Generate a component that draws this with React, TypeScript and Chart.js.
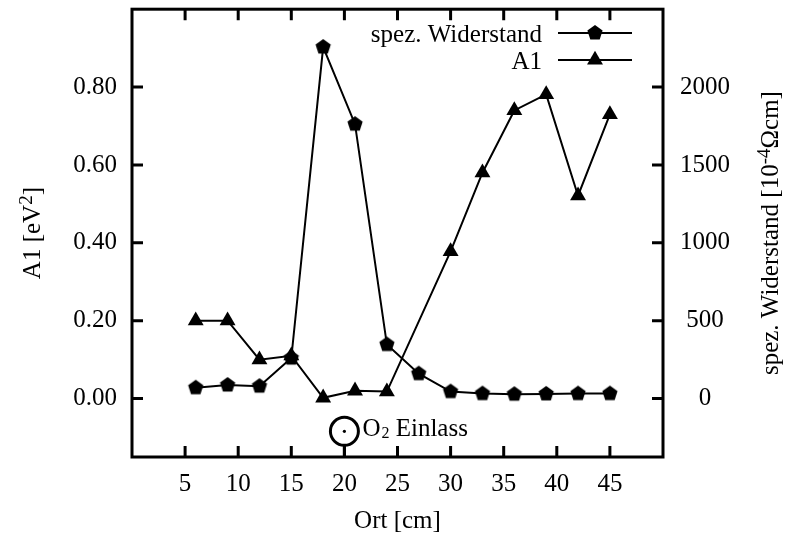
import React, { useEffect, useRef } from 'react';
import { Chart, registerables } from 'chart.js';

Chart.register(...registerables);

// ---- data ----
const ortCm = [6, 9, 12, 15, 18, 21, 24, 27, 30, 33, 36, 39, 42, 45];
const widerstand = [70, 87, 80, 260, 2257, 1762, 347, 160, 45, 32, 28, 30, 32, 32];
const a1Values: (number | null)[] = [0.2, 0.2, 0.1, 0.11, 0.002, 0.02, 0.018, null, 0.378, 0.58, 0.74, 0.781, 0.521, 0.73];
const xTickValues = [5, 10, 15, 20, 25, 30, 35, 40, 45];
const leftTickValues = [0, 0.2, 0.4, 0.6, 0.8];
const rightTickValues = [0, 500, 1000, 1500, 2000];
const einlassOrt = 20;
const einlassLevel = -0.084;

const FONT = 'Liberation Serif';
const FS = 25;

function makePentagon(R: number): HTMLCanvasElement {
  const size = Math.ceil(2 * R + 2);
  const c = document.createElement('canvas');
  c.width = size;
  c.height = size;
  const g = c.getContext('2d')!;
  g.beginPath();
  for (let i = 0; i < 5; i++) {
    const a = -Math.PI / 2 + (i * 2 * Math.PI) / 5;
    const px = size / 2 + R * Math.cos(a);
    const py = size / 2 + R * Math.sin(a);
    if (i === 0) g.moveTo(px, py);
    else g.lineTo(px, py);
  }
  g.closePath();
  g.fillStyle = '#000';
  g.fill();
  return c;
}

function drawTriangle(ctx: CanvasRenderingContext2D, x: number, y: number, r: number) {
  ctx.beginPath();
  let rad = 0;
  for (let i = 0; i < 3; i++) {
    const px = x + Math.sin(rad) * r;
    const py = y - Math.cos(rad) * r;
    if (i === 0) ctx.moveTo(px, py);
    else ctx.lineTo(px, py);
    rad += (2 * Math.PI) / 3;
  }
  ctx.closePath();
  ctx.fillStyle = '#000';
  ctx.fill();
}

// draws a mixed text run [text, size, raise] on the alphabetic baseline y=0
function drawRuns(ctx: CanvasRenderingContext2D, runs: [string, number, number][], cx: number, align: 'center' | 'right' | 'left') {
  let total = 0;
  const widths = runs.map(([t, s]) => {
    ctx.font = `${s}px "${FONT}"`;
    const w = ctx.measureText(t).width;
    total += w;
    return w;
  });
  let x = align === 'center' ? cx - total / 2 : align === 'right' ? cx - total : cx;
  ctx.textAlign = 'left';
  ctx.textBaseline = 'alphabetic';
  runs.forEach(([t, s, raise], i) => {
    ctx.font = `${s}px "${FONT}"`;
    ctx.fillText(t, x, -raise);
    x += widths[i];
  });
}

const zeroPad = (s: any) => {
  s.paddingTop = 0;
  s.paddingBottom = 0;
  s.paddingLeft = 0;
  s.paddingRight = 0;
};

export default function App() {
  const canvasRef = useRef<HTMLCanvasElement | null>(null);

  useEffect(() => {
    const canvas = canvasRef.current;
    if (!canvas) return;
    const pentagon = makePentagon(8);
    const TRI_R = 9.2;

    const decorPlugin = {
      id: 'decor',
      afterDraw(chart: any) {
        const ctx: CanvasRenderingContext2D = chart.ctx;
        const { left, right, top, bottom } = chart.chartArea;
        const xs = chart.scales.x;
        const ys = chart.scales.y;
        const y1 = chart.scales.y1;
        ctx.save();
        ctx.strokeStyle = '#000';
        ctx.fillStyle = '#000';
        ctx.lineCap = 'butt';

        // ticks
        ctx.lineWidth = 3;
        const TL = 11;
        ctx.beginPath();
        xTickValues.forEach((v) => {
          const px = xs.getPixelForValue(v);
          ctx.moveTo(px, bottom);
          ctx.lineTo(px, bottom - TL);
          ctx.moveTo(px, top);
          ctx.lineTo(px, top + TL);
        });
        leftTickValues.forEach((v) => {
          const py = ys.getPixelForValue(v);
          ctx.moveTo(left, py);
          ctx.lineTo(left + TL, py);
        });
        rightTickValues.forEach((v) => {
          const py = y1.getPixelForValue(v);
          ctx.moveTo(right, py);
          ctx.lineTo(right - TL, py);
        });
        ctx.stroke();

        // frame
        ctx.lineWidth = 3;
        ctx.strokeRect(left, top, right - left, bottom - top);

        const midY = (top + bottom) / 2;

        // left title
        ctx.save();
        ctx.translate(40, midY);
        ctx.rotate(-Math.PI / 2);
        drawRuns(ctx, [['A1 [eV', FS, 0], ['2', 19, 8], [']', FS, 0]], 0, 'center');
        ctx.restore();

        // right title
        ctx.save();
        ctx.translate(778, midY);
        ctx.rotate(-Math.PI / 2);
        drawRuns(ctx, [['spez. Widerstand [10', FS, 0], ['-4', 19, 8], ['Ωcm]', FS, 0]], 0, 'center');
        ctx.restore();

        // x title
        ctx.save();
        ctx.translate((left + right) / 2, 528);
        drawRuns(ctx, [['Ort [cm]', FS, 0]], 0, 'center');
        ctx.restore();

        // legend
        const legendRows = [
          { label: 'spez. Widerstand', y: 33, marker: 'pent' },
          { label: 'A1', y: 60, marker: 'tri' },
        ];
        legendRows.forEach((row) => {
          ctx.save();
          ctx.translate(0, row.y + 9);
          drawRuns(ctx, [[row.label, FS, 0]], 542, 'right');
          ctx.restore();
          ctx.lineWidth = 2;
          ctx.beginPath();
          ctx.moveTo(558, row.y);
          ctx.lineTo(632, row.y);
          ctx.stroke();
          if (row.marker === 'pent') {
            ctx.drawImage(pentagon, 595 - pentagon.width / 2, row.y - pentagon.height / 2);
          } else {
            drawTriangle(ctx, 595, row.y, TRI_R);
          }
        });

        // O2 inlet annotation
        const cx = xs.getPixelForValue(einlassOrt);
        const cy = ys.getPixelForValue(einlassLevel);
        ctx.lineWidth = 3;
        ctx.beginPath();
        ctx.arc(cx, cy, 14, 0, Math.PI * 2);
        ctx.stroke();
        ctx.beginPath();
        ctx.moveTo(cx, cy + 14);
        ctx.lineTo(cx, bottom);
        ctx.stroke();
        ctx.beginPath();
        ctx.arc(cx, cy, 1.6, 0, Math.PI * 2);
        ctx.fill();
        ctx.textAlign = 'left';
        ctx.textBaseline = 'alphabetic';
        ctx.font = `${FS}px "${FONT}"`;
        const tx = cx + 18;
        const ty = cy + 4.5;
        ctx.fillText('O', tx, ty);
        const wO = ctx.measureText('O').width;
        ctx.font = `16px "${FONT}"`;
        ctx.fillText('2', tx + wO + 1, ty + 2);
        const w2 = ctx.measureText('2').width;
        ctx.font = `${FS}px "${FONT}"`;
        ctx.fillText(' Einlass', tx + wO + 1 + w2, ty);

        ctx.restore();
      },
    };

    const chart = new Chart(canvas, {
      type: 'line',
      data: {
        datasets: [
          {
            label: 'spez. Widerstand',
            data: ortCm.map((x, i) => ({ x, y: widerstand[i] })),
            yAxisID: 'y1',
            borderColor: '#000',
            backgroundColor: '#000',
            borderWidth: 2,
            pointStyle: pentagon as any,
            pointRadius: 8,
            pointBorderWidth: 0,
            tension: 0,
            fill: false,
          },
          {
            label: 'A1',
            data: ortCm.map((x, i) => ({ x, y: a1Values[i] })),
            yAxisID: 'y',
            borderColor: '#000',
            backgroundColor: '#000',
            pointBackgroundColor: '#000',
            borderWidth: 2,
            pointStyle: 'triangle',
            pointRadius: TRI_R,
            pointBorderWidth: 0,
            spanGaps: true,
            tension: 0,
            fill: false,
          },
        ],
      },
      options: {
        animation: false,
        responsive: false,
        devicePixelRatio: 1,
        events: [],
        layout: { padding: { top: 9, left: 0, right: 0, bottom: 0 } },
        plugins: {
          legend: { display: false },
          tooltip: { enabled: false },
          title: { display: false },
        },
        scales: {
          x: {
            type: 'linear',
            position: 'bottom',
            min: 0,
            max: 50,
            grid: { display: false, drawTicks: false },
            border: { display: false },
            afterBuildTicks: (s: any) => {
              s.ticks = xTickValues.map((v) => ({ value: v }));
            },
            afterFit: (s: any) => {
              s.height = 79;
              zeroPad(s);
            },
            ticks: {
              color: '#000',
              font: { family: FONT, size: FS },
              padding: 12,
              maxRotation: 0,
              autoSkip: false,
              callback: (v: any) => String(v),
            },
          },
          y: {
            type: 'linear',
            position: 'left',
            min: -0.15,
            max: 1.0,
            grid: { display: false, drawTicks: false },
            border: { display: false },
            afterBuildTicks: (s: any) => {
              s.ticks = leftTickValues.map((v) => ({ value: v }));
            },
            afterFit: (s: any) => {
              s.width = 132;
              zeroPad(s);
            },
            ticks: {
              color: '#000',
              font: { family: FONT, size: FS },
              padding: 15,
              autoSkip: false,
              callback: (v: any) => Number(v).toFixed(2),
            },
          },
          y1: {
            type: 'linear',
            position: 'right',
            min: -375,
            max: 2500,
            grid: { display: false, drawTicks: false },
            border: { display: false },
            afterBuildTicks: (s: any) => {
              s.ticks = rightTickValues.map((v) => ({ value: v }));
            },
            afterFit: (s: any) => {
              s.width = 123;
              zeroPad(s);
            },
            ticks: {
              color: '#000',
              font: { family: FONT, size: FS },
              padding: 17,
              crossAlign: 'center',
              autoSkip: false,
              callback: (v: any) => String(v),
            },
          },
        },
      },
      plugins: [decorPlugin],
    } as any);

    return () => {
      chart.destroy();
    };
  }, []);

  return (
    <div style={{ position: 'absolute', left: 0, top: 0, width: 786, height: 536, background: '#fff' }}>
      <canvas ref={canvasRef} width={786} height={536} style={{ display: 'block', width: 786, height: 536 }} />
    </div>
  );
}
